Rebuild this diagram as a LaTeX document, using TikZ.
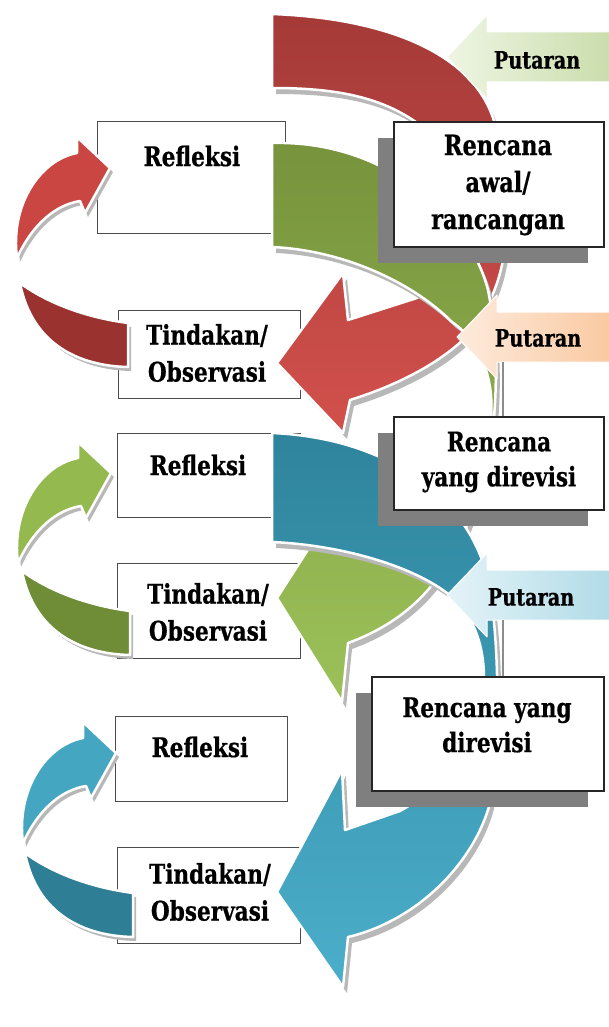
\documentclass[tikz,border=0pt]{standalone}
\usepackage{fontspec}
\newfontfamily\labelfont{DejaVuSerifCondensed-Bold}[Extension=.ttf, FakeStretch=0.89, FakeBold=0.6]
\usetikzlibrary{shadows}

\definecolor{redtop}{HTML}{A43A37}
\definecolor{redbot}{HTML}{D2504C}
\definecolor{redloop}{HTML}{C94642}
\definecolor{redtail}{HTML}{9A3230}
\definecolor{greentop}{HTML}{77933C}
\definecolor{greenbot}{HTML}{9CC159}
\definecolor{greenloop}{HTML}{94B94F}
\definecolor{greentail}{HTML}{6F8C36}
\definecolor{tealtop}{HTML}{2E849C}
\definecolor{tealbot}{HTML}{4BAECA}
\definecolor{tealloop}{HTML}{45A6C2}
\definecolor{tealtail}{HTML}{2E7F96}
\definecolor{putonel}{HTML}{EEF5E3}
\definecolor{putoner}{HTML}{C3D8A0}
\definecolor{puttwol}{HTML}{FDEBDD}
\definecolor{puttwor}{HTML}{F9BF8F}
\definecolor{putthreel}{HTML}{E4F3F8}
\definecolor{putthreer}{HTML}{A6D6E3}
\definecolor{boxshadow}{HTML}{7F7F7F}

\tikzset{
  cyclebox/.style={draw=black!70, line width=1pt, fill=white, inner sep=0pt},
  planbox/.style={draw=black!85, line width=1.6pt, fill=white, inner sep=0pt,
    drop shadow={shadow xshift=-16pt, shadow yshift=-16pt, fill=boxshadow, opacity=1}},
  refltxt/.style={font=\labelfont\fontsize{27}{30}\selectfont, align=center, inner sep=0pt},
  acttxt/.style={font=\labelfont\fontsize{27}{37}\selectfont, align=center, inner sep=0pt},
  plantxt/.style={font=\labelfont\fontsize{28}{37}\selectfont, align=center, inner sep=0pt},
  revtxt/.style={font=\labelfont\fontsize{27}{35}\selectfont, align=center, inner sep=0pt},
  puttxt/.style={font=\labelfont\fontsize{24}{24}\selectfont, inner sep=0pt},
  arcshadow/.style={fill=black!28},
  rim/.style={draw=white, line width=2.5pt, line join=round},
  putarrow/.style={draw=white, line width=1pt, line join=round},
  linkline/.style={draw=black!45, line width=1.2pt},
}

% small loop (head part and tail part)
\newcommand{\loophead}{(17,258) .. controls (10,205) and (40,160) .. (77,153) -- (77,137) -- (110,168) -- (85,213) -- (80,201) .. controls (55,205) and (32,225) .. (17,258) -- cycle}
\newcommand{\looptail}{(20,283) .. controls (50,305) and (90,318) .. (128,323) -- (128,367) .. controls (80,366) and (32,345) .. (20,283) -- cycle}
% big round arrows
\newcommand{\redarc}{(272,14) .. controls (380,18) and (470,50) .. (493,118)
  .. controls (510,170) and (515,250) .. (490,300)
  .. controls (480,335) and (430,375) .. (350,400)
  -- (343,433) -- (277,363) -- (343,273) -- (348,320) -- (417,298)
  .. controls (450,270) and (445,160) .. (420,125)
  .. controls (380,95) and (330,88) .. (272,88) -- cycle}
\newcommand{\greenarc}{(272,143) .. controls (390,140) and (470,220) .. (488,290)
  .. controls (500,350) and (500,440) .. (475,505)
  .. controls (455,560) and (425,615) .. (348,643)
  -- (342,702) -- (277,598) -- (343,495) -- (348,548)
  .. controls (400,535) and (470,510) .. (484,450)
  .. controls (499,410) and (493,350) .. (452,322)
  .. controls (410,280) and (340,250) .. (272,247) -- cycle}
\newcommand{\tealarc}{(272,433) .. controls (390,438) and (470,500) .. (488,580)
  .. controls (500,640) and (500,740) .. (490,803)
  .. controls (475,860) and (420,920) .. (348,937)
  -- (343,987) -- (277,892) -- (342,770) -- (345,830) -- (400,811)
  .. controls (440,790) and (480,730) .. (484,678)
  .. controls (484,640) and (470,610) .. (447,593)
  .. controls (410,565) and (340,545) .. (272,542) -- cycle}
\newcommand{\putshape}{(0,0) -- (40,-42) -- (40,-25) -- (200,-25) -- (200,25) -- (40,25) -- (40,42) -- cycle}

\begin{document}
\begin{tikzpicture}[x=1pt,y=-1pt]
  \useasboundingbox (0,0) rectangle (608,1027);

  % boxes of the cycles
  \node[cyclebox, minimum width=188pt, minimum height=111pt] (refl1) at (191,177.5) {};
  \node[cyclebox, minimum width=182pt, minimum height=88pt] (act1) at (209,354) {};
  \node[cyclebox, minimum width=183pt, minimum height=84pt] (refl2) at (208.5,475) {};
  \node[cyclebox, minimum width=183pt, minimum height=95pt] (act2) at (208.5,610.5) {};
  \node[cyclebox, minimum width=172pt, minimum height=85pt] (refl3) at (201,758.5) {};
  \node[cyclebox, minimum width=183pt, minimum height=96pt] (act3) at (208.5,895) {};
  \node[refltxt] (refl1txt) at (192,156) {Refleksi};
  \node[refltxt] (refl2txt) at (198,465) {Refleksi};
  \node[refltxt] (refl3txt) at (200,747) {Refleksi};
  \node[acttxt] (act1txt) at (207,353) {Tindakan/\\Observasi};
  \node[acttxt] (act2txt) at (208,612) {Tindakan/\\Observasi};
  \node[acttxt] (act3txt) at (210,892) {Tindakan/\\Observasi};

  % small loops
  \fill[arcshadow, shift={(3,4)}] \looptail;
  \fill[redtail, rim] \looptail;
  \fill[arcshadow, shift={(3,4)}] \loophead;
  \fill[redloop, rim] \loophead;
  \fill[arcshadow, shift={(5,292)}] \looptail;
  \fill[greentail, rim, shift={(2,288)}] \looptail;
  \fill[arcshadow, shift={(4,309)}] \loophead;
  \fill[greenloop, rim, shift={(1,305)}] \loophead;
  \fill[arcshadow, shift={(8,574)}] \looptail;
  \fill[tealtail, rim, shift={(5,570)}] \looptail;
  \fill[arcshadow, shift={(9,589)}] \loophead;
  \fill[tealloop, rim, shift={(6,585)}] \loophead;

  % big arrows
  \fill[arcshadow, shift={(4,6)}] \redarc;
  \shade[rim, top color=redtop, bottom color=redbot] \redarc;
  \fill[arcshadow, shift={(4,6)}] \greenarc;
  \shade[rim, top color=greentop, bottom color=greenbot] \greenarc;
  \node[planbox, minimum width=210pt, minimum height=125pt] (plan1) at (499,184.5) {};
  \node[plantxt] (plan1txt) at (498,185) {Rencana\\awal/\\rancangan};
  \fill[arcshadow, shift={(4,6)}] \tealarc;
  \shade[rim, top color=tealtop, bottom color=tealbot] \tealarc;

  % Putaran arrows
  \shade[putarrow, left color=putonel, right color=putoner, shift={(447,57)}] \putshape;
  \shade[putarrow, left color=puttwol, right color=puttwor, shift={(457,337)}] \putshape;
  \shade[putarrow, left color=putthreel, right color=putthreer, shift={(447,595)}] \putshape;
  \node[puttxt] (put1) at (537,60) {Putaran};
  \node[puttxt] (put2) at (538,338) {Putaran};
  \node[puttxt] (put3) at (531,597) {Putaran};

  \node[planbox, minimum width=210pt, minimum height=93pt] (plan2) at (499,463.5) {};
  \node[revtxt] (plan2txt) at (499,462) {Rencana\\yang direvisi};
  \node[planbox, minimum width=232pt, minimum height=114pt] (plan3) at (488,734) {};
  \node[revtxt] (plan3txt) at (487,725) {Rencana yang\\direvisi};

  \coordinate (p2foot) at (503,362);
  \coordinate (p3foot) at (503,620);
  \draw[linkline] (p2foot) -- (p2foot |- plan2.north);
  \draw[linkline] (p3foot) -- (p3foot |- plan3.north);
\end{tikzpicture}
\end{document}
